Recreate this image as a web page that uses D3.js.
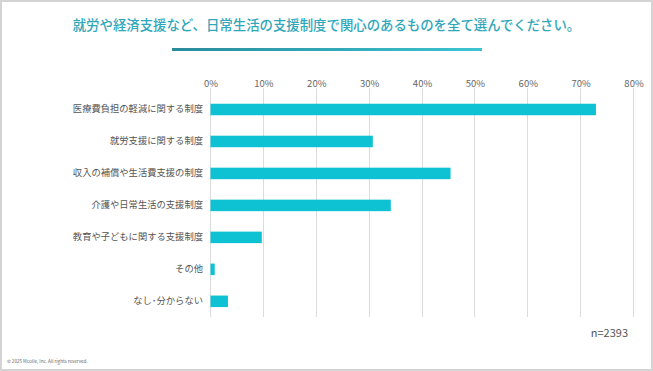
<!DOCTYPE html>
<html><head><meta charset="utf-8">
<script src="https://cdn.jsdelivr.net/npm/d3@7"></script>
<style>body{margin:0;background:#fff;} svg{display:block;font-family:"Noto Sans CJK JP","Noto Sans",sans-serif;}</style>
</head><body>
<script>
const categories = ["医療費負担の軽減に関する制度","就労支援に関する制度","収入の補償や生活費支援の制度","介護や日常生活の支援制度","教育や子どもに関する支援制度","その他","なし･分からない"];
const values = [72.9, 30.7, 45.4, 34.1, 9.7, 0.8, 3.3];
const ticks = [0,10,20,30,40,50,60,70,80];
const title = "就労や経済支援など、日常生活の支援制度で関心のあるものを全て選んでください。";
const note = "n=2393";
const copyright = "© 2025 Mcolle, Inc. All rights reserved.";

const W=653,H=371;
const svg=d3.select("body").append("svg").attr("width",W).attr("height",H);
svg.append("rect").attr("x",1).attr("y",1).attr("width",W-2).attr("height",H-2).attr("fill","#fff").attr("stroke","#d4d4d4").attr("stroke-width",2);

const defs=svg.append("defs");
const g=defs.append("linearGradient").attr("id","ul");
g.append("stop").attr("offset","0%").attr("stop-color","#2a8b9b");
g.append("stop").attr("offset","100%").attr("stop-color","#3cc4d2");

svg.append("text").attr("x",326.5).attr("y",30).attr("text-anchor","middle").attr("font-size",13.4).attr("font-weight",500).attr("fill","#30a7ba").text(title);
svg.append("rect").attr("x",172).attr("y",48).attr("width",310).attr("height",3).attr("fill","url(#ul)");

const x=d3.scaleLinear().domain([0,80]).range([210.5,633.5]);
const y=d3.scaleBand().domain(categories).range([93.5,317.3]).paddingInner(0.64).paddingOuter(0.32);

svg.append("g").selectAll("line").data(ticks).join("line")
 .attr("x1",d=>x(d)).attr("x2",d=>x(d)).attr("y1",88).attr("y2",317)
 .attr("stroke","#dcdcdc").attr("stroke-width",1).attr("shape-rendering","crispEdges");

const ax=svg.append("g").attr("transform","translate(0,87)").call(d3.axisTop(x).tickValues(ticks).tickFormat(d=>d+"%").tickSize(0).tickPadding(0));
ax.select(".domain").remove();
ax.selectAll("text").attr("font-size",9.5).attr("fill","#666").attr("font-family","\"Noto Sans CJK JP\",sans-serif");

svg.append("g").selectAll("rect").data(values).join("rect")
 .attr("x",x(0)).attr("y",(d,i)=>y(categories[i])).attr("height",y.bandwidth())
 .attr("width",d=>x(d)-x(0)).attr("fill","#0ec2d4");

const ay=svg.append("g").attr("transform","translate(210.5,0)").call(d3.axisLeft(y).tickSize(0).tickPadding(7.5));
ay.select(".domain").remove();
ay.selectAll("text").attr("font-size",9.3).attr("fill","#555").attr("font-family","\"Noto Sans CJK JP\",sans-serif");

svg.append("text").attr("x",628).attr("y",337).attr("text-anchor","end").attr("font-size",11).attr("fill","#555").text(note);
svg.append("text").attr("x",7).attr("y",363).attr("font-size",4.6).attr("fill","#666").text(copyright);
</script>
</body></html>
